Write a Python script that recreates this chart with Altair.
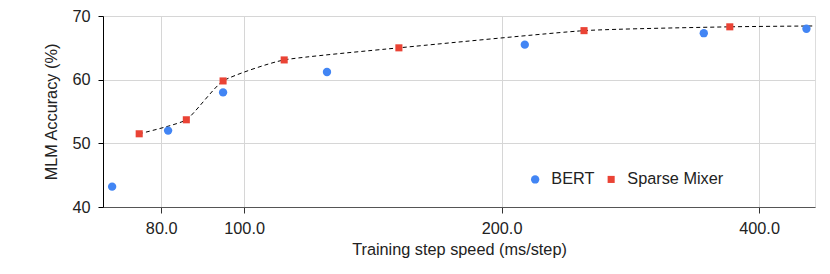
import altair as alt
import pandas as pd

series_names = ["BERT", "Sparse Mixer"]
bert_x = [70.1, 81.5, 94.5, 125.0, 212.9, 344.7, 454.4]
bert_y = [43.2, 52.0, 58.0, 61.2, 65.5, 67.3, 68.0]
mixer_x = [75.4, 85.6, 94.5, 111.4, 151.7, 249.7, 369.7]
mixer_y = [51.5, 53.7, 59.8, 63.1, 65.0, 67.7, 68.3]
line_x = mixer_x + [480.0]
line_y = mixer_y + [68.45]
x_ticks = [80, 100, 200, 400]
y_ticks = [40, 50, 60, 70]

pts = pd.DataFrame({
    "x": bert_x + mixer_x,
    "y": bert_y + mixer_y,
    "series": [series_names[0]] * len(bert_x) + [series_names[1]] * len(mixer_x),
})
line_df = pd.DataFrame({"x": line_x, "y": line_y})

FONT = "Liberation Sans"
FS = 16.3

xscale = alt.Scale(type="log", domain=[68.4, 465], nice=False, zero=False)
yscale = alt.Scale(domain=[40, 70], nice=False, zero=False)

xaxis = alt.Axis(values=x_ticks, format=".1f", title="Training step speed (ms/step)",
                 labelFontSize=FS, titleFontSize=FS, titleFontWeight="normal",
                 labelFont=FONT, titleFont=FONT, labelColor="#222", titleColor="#222",
                 grid=True, gridColor="#d6d6d6", domainColor="#555", tickColor="#333",
                 tickSize=6, labelPadding=7, titlePadding=5, labelFlush=False)
yaxis = alt.Axis(values=y_ticks, title="MLM Accuracy (%)",
                 labelFontSize=FS, titleFontSize=FS, titleFontWeight="normal",
                 labelFont=FONT, titleFont=FONT, labelColor="#222", titleColor="#222",
                 grid=True, gridColor="#d6d6d6", domainColor="#000", tickColor="#000",
                 tickSize=5, labelPadding=8, titlePadding=12)

line = alt.Chart(line_df).mark_line(
    color="black", strokeWidth=1, strokeDash=[4, 3], interpolate="cardinal", tension=0.5, clip=True
).encode(
    x=alt.X("x:Q", scale=xscale, axis=xaxis),
    y=alt.Y("y:Q", scale=yscale, axis=yaxis),
)

points = alt.Chart(pts).mark_point(filled=True, opacity=1).encode(
    x=alt.X("x:Q", scale=xscale),
    y=alt.Y("y:Q", scale=yscale),
    color=alt.Color("series:N", scale=alt.Scale(domain=series_names, range=["#4285F4", "#EA4335"]),
                    legend=alt.Legend(title=None, orient="none", legendX=424, legendY=155,
                                      direction="horizontal", labelFontSize=FS, labelFont=FONT,
                                      labelColor="#222", symbolSize=90, columnPadding=8,
                                      labelOffset=8)),
    shape=alt.Shape("series:N", scale=alt.Scale(domain=series_names, range=["circle", "square"])),
    size=alt.Size("series:N", scale=alt.Scale(domain=series_names, range=[70, 50]), legend=None),
)

chart = alt.layer(line, points).properties(
    width=712, height=191,
    autosize=alt.AutoSizeParams(type="none"),
    padding={"left": 95, "top": 8, "right": 5, "bottom": 55},
).configure_view(stroke=None).configure(background="white")

chart.save("out.html", embed_options={"renderer": "svg", "actions": False})
